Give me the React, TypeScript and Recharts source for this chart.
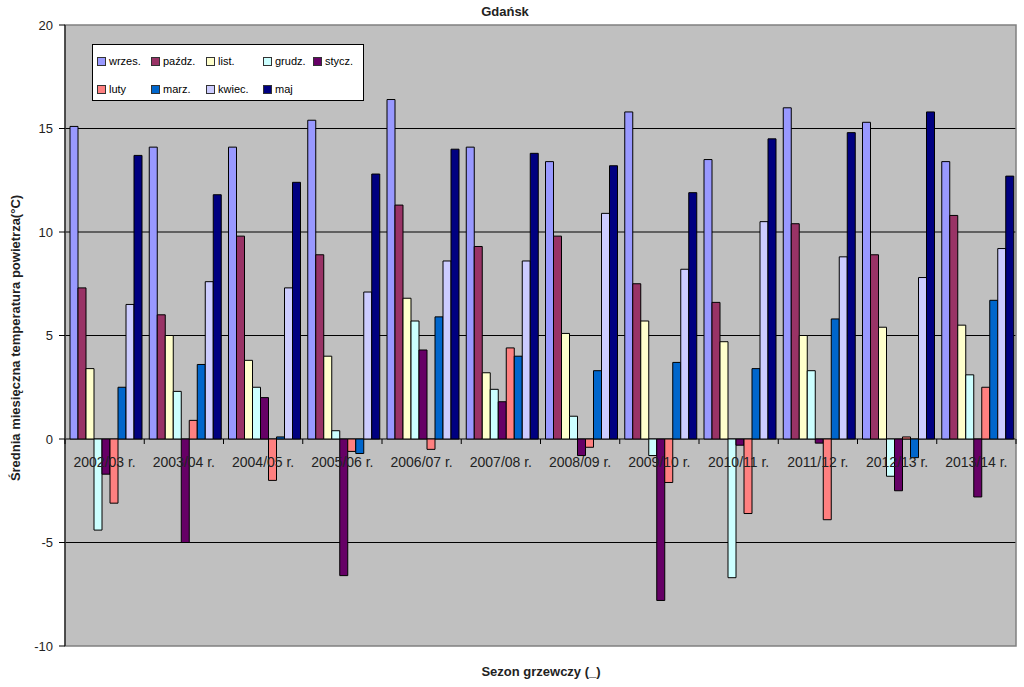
import React from "react";
import {
  Bar,
  BarChart,
  CartesianGrid,
  Legend,
  ReferenceArea,
  XAxis,
  YAxis,
} from "recharts";

const seasons = [
  "2002/03 r.",
  "2003/04 r.",
  "2004/05 r.",
  "2005/06 r.",
  "2006/07 r.",
  "2007/08 r.",
  "2008/09 r.",
  "2009/10 r.",
  "2010/11 r.",
  "2011/12 r.",
  "2012/13 r.",
  "2013/14 r.",
];

const wrzes = [15.1, 14.1, 14.1, 15.4, 16.4, 14.1, 13.4, 15.8, 13.5, 16.0, 15.3, 13.4];
const pazdz = [7.3, 6.0, 9.8, 8.9, 11.3, 9.3, 9.8, 7.5, 6.6, 10.4, 8.9, 10.8];
const list = [3.4, 5.0, 3.8, 4.0, 6.8, 3.2, 5.1, 5.7, 4.7, 5.0, 5.4, 5.5];
const grudz = [-4.4, 2.3, 2.5, 0.4, 5.7, 2.4, 1.1, -0.8, -6.7, 3.3, -1.8, 3.1];
const stycz = [-1.7, -5.0, 2.0, -6.6, 4.3, 1.8, -0.8, -7.8, -0.3, -0.2, -2.5, -2.8];
const luty = [-3.1, 0.9, -2.0, -0.6, -0.5, 4.4, -0.4, -2.1, -3.6, -3.9, 0.1, 2.5];
const marz = [2.5, 3.6, 0.1, -0.7, 5.9, 4.0, 3.3, 3.7, 3.4, 5.8, -0.9, 6.7];
const kwiec = [6.5, 7.6, 7.3, 7.1, 8.6, 8.6, 10.9, 8.2, 10.5, 8.8, 7.8, 9.2];
const maj = [13.7, 11.8, 12.4, 12.8, 14.0, 13.8, 13.2, 11.9, 14.5, 14.8, 15.8, 12.7];

const yTicks = [-10, -5, 0, 5, 10, 15, 20];
const gridValues = [-5, 0, 5, 10, 15];

const series = [
  { key: "wrzes", name: "wrzes.", color: "#9999FF", values: wrzes },
  { key: "pazdz", name: "paźdz.", color: "#993366", values: pazdz },
  { key: "list", name: "list.", color: "#FFFFCC", values: list },
  { key: "grudz", name: "grudz.", color: "#CCFFFF", values: grudz },
  { key: "stycz", name: "stycz.", color: "#660066", values: stycz },
  { key: "luty", name: "luty", color: "#FF8080", values: luty },
  { key: "marz", name: "marz.", color: "#0066CC", values: marz },
  { key: "kwiec", name: "kwiec.", color: "#CCCCFF", values: kwiec },
  { key: "maj", name: "maj", color: "#000080", values: maj },
];

const data = seasons.map((season, i) => {
  const row: Record<string, string | number> = { season };
  series.forEach((s) => {
    row[s.key] = s.values[i];
  });
  return row;
});

const W = 1024;
const H = 687;
const PLOT_LEFT = 65;
const PLOT_RIGHT = 1016;
const PLOT_TOP = 25;
const PLOT_BOTTOM = 646;
const X_AXIS_H = 20;
const Y_MIN = -10;
const Y_MAX = 20;
const ZERO_Y = PLOT_TOP + ((PLOT_BOTTOM - PLOT_TOP) * Y_MAX) / (Y_MAX - Y_MIN);
const BAND = (PLOT_RIGHT - PLOT_LEFT) / seasons.length;
const FONT = "Arial, 'Liberation Sans', sans-serif";

// Excel draws the category axis where y = 0, so the labels sit on that line
function renderSeasonTick(props: any) {
  const { x, payload, index } = props;
  return (
    <g key={`tick-${index}`}>
      <line x1={x - BAND / 2} x2={x - BAND / 2} y1={ZERO_Y} y2={ZERO_Y + 5} stroke="#000" />
      {index === seasons.length - 1 && (
        <line x1={x + BAND / 2} x2={x + BAND / 2} y1={ZERO_Y} y2={ZERO_Y + 5} stroke="#000" />
      )}
      <text x={x} y={ZERO_Y + 28} textAnchor="middle" fontSize={14} fill="#222" fontFamily={FONT}>
        {payload.value}
      </text>
    </g>
  );
}

const legendCols = [4, 58, 113, 170, 220];
const legendRows = [16, 44];

function LegendBox() {
  return (
    <div
      style={{
        position: "relative",
        width: 272,
        height: 57,
        background: "#fff",
        border: "1px solid #000",
        boxSizing: "border-box",
        fontFamily: FONT,
        fontSize: 11,
        color: "#000",
      }}
    >
      {series.map((s, i) => (
        <div
          key={s.key}
          style={{
            position: "absolute",
            left: legendCols[i % 5],
            top: legendRows[Math.floor(i / 5)] - 7,
            height: 14,
            display: "flex",
            alignItems: "center",
            whiteSpace: "nowrap",
          }}
        >
          <span
            style={{
              display: "inline-block",
              width: 7,
              height: 7,
              background: s.color,
              border: "1px solid #333",
              marginRight: 3,
            }}
          />
          {s.name}
        </div>
      ))}
    </div>
  );
}

export default function App() {
  return (
    <div
      style={{
        position: "absolute",
        left: 0,
        top: 0,
        width: W,
        height: H,
        background: "#fff",
        fontFamily: FONT,
      }}
    >
      <BarChart
        width={W}
        height={H}
        data={data}
        margin={{ top: PLOT_TOP, right: W - PLOT_RIGHT, bottom: H - PLOT_BOTTOM - X_AXIS_H, left: 0 }}
        barGap={0}
        barCategoryGap={5}
      >
        <CartesianGrid
          vertical={false}
          horizontalValues={gridValues}
          stroke="#000"
          fill="#C0C0C0"
          fillOpacity={1}
        />
        <ReferenceArea y1={Y_MIN} y2={Y_MAX} fill="none" stroke="#808080" strokeWidth={1.5} />
        <XAxis
          dataKey="season"
          height={X_AXIS_H}
          axisLine={false}
          tickLine={false}
          interval={0}
          tick={renderSeasonTick}
        />
        <YAxis
          width={PLOT_LEFT}
          domain={[Y_MIN, Y_MAX]}
          ticks={yTicks}
          interval={0}
          allowDataOverflow
          axisLine={{ stroke: "#000" }}
          tickLine={{ stroke: "#000" }}
          tickSize={6}
          tickMargin={6}
          tick={{ fontSize: 13, fill: "#222", fontFamily: FONT }}
        />
        <Legend
          layout="horizontal"
          verticalAlign="middle"
          content={() => <LegendBox />}
          wrapperStyle={{ position: "absolute", left: 92, top: 44, width: 272, height: 57 }}
        />
        {series.map((s) => (
          <Bar
            key={s.key}
            dataKey={s.key}
            name={s.name}
            fill={s.color}
            stroke="#000"
            strokeWidth={1}
            isAnimationActive={false}
          />
        ))}
      </BarChart>
      <div
        style={{
          position: "absolute",
          left: 0,
          top: 4,
          width: 1010,
          textAlign: "center",
          fontWeight: "bold",
          fontSize: 13,
          color: "#222",
        }}
      >
        Gdańsk
      </div>
      <div
        style={{
          position: "absolute",
          left: 0,
          top: 664,
          width: 1082,
          textAlign: "center",
          fontWeight: "bold",
          fontSize: 13,
          color: "#222",
        }}
      >
        Sezon grzewczy (_)
      </div>
      <div
        style={{
          position: "absolute",
          left: 15,
          top: 338,
          transform: "translate(-50%, -50%) rotate(-90deg)",
          whiteSpace: "nowrap",
          fontWeight: "bold",
          fontSize: 13,
          color: "#222",
        }}
      >
        Średnia miesięczna temperatura powietrza(°C)
      </div>
    </div>
  );
}
